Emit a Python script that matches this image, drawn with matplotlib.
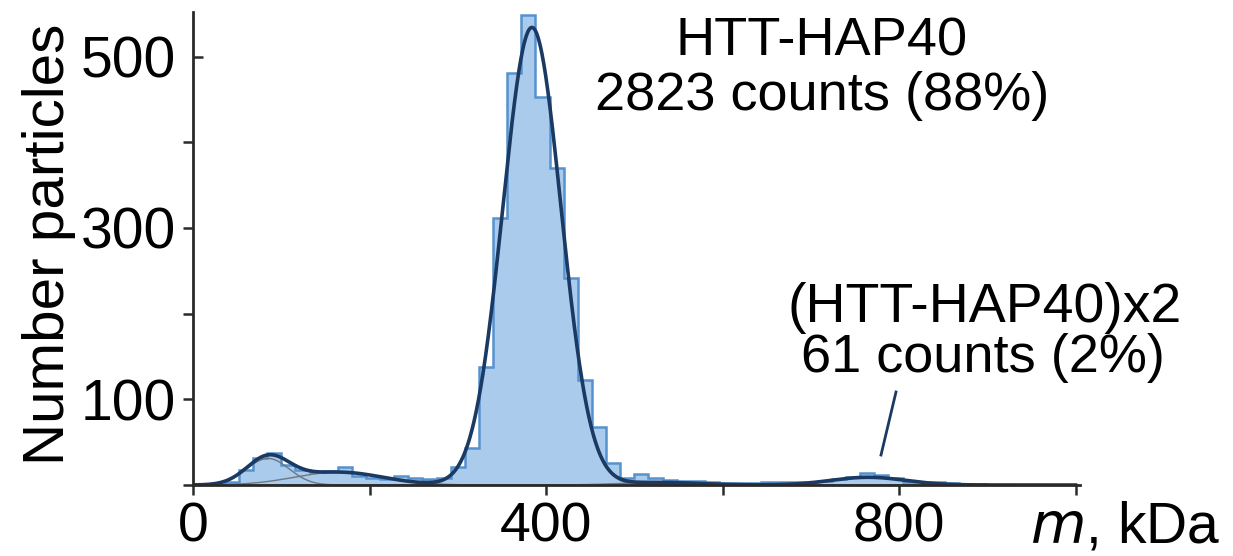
import numpy as np
import matplotlib.pyplot as plt
from matplotlib import lines as mlines

plt.rcParams['font.family'] = ['Liberation Sans', 'DejaVu Sans']

# mass histogram, 16 kDa bins starting at 4 kDa
bin_start = 4
bin_width = 16
counts = [0, 1, 3, 17, 31, 37, 23, 18, 15, 16,
          21, 11, 8, 7, 11, 8, 7, 8, 21, 43,
          138, 312, 481, 548, 453, 370, 242, 123, 68, 26,
          8, 13, 8, 6, 5, 5, 4, 2, 2, 2,
          3, 3, 3, 3, 5, 7, 9, 14, 12, 8,
          4, 4, 3, 2, 1, 1, 0, 0, 0, 0, 0, 0]

# gaussian fit components (kDa, kDa, counts)
peak_centers = [85, 165, 384, 530, 765]
peak_sigmas = [24, 50, 33, 45, 42]
peak_heights = [31, 15, 534, 3, 9]

x_ticks_major = [0, 400, 800]
x_ticks_minor = [200, 600, 1000]
y_ticks_major = [100, 300, 500]
y_ticks_minor = [0, 200, 400]

fill_col = '#aacbeb'
edge_col = '#5592cf'
fit_col = '#1b3a63'
comp_col = '#6d7780'
axis_col = '#2a2a2a'
fs = 39


def main():
    edges = bin_start + bin_width * np.arange(len(counts) + 1)
    fig = plt.figure(figsize=(12.33, 5.56), dpi=100)
    ax = fig.add_axes([193 / 1233, 1 - 485 / 556, 887 / 1233, 473 / 556])

    # histogram
    ax.stairs(counts, edges, fill=True, color=fill_col, linewidth=0)
    ax.stairs(counts, edges, color=edge_col, linewidth=1.8)

    # fitted gaussians
    xs = np.linspace(0, 1000, 2001)
    total = np.zeros_like(xs)
    for c, s, h in zip(peak_centers, peak_sigmas, peak_heights):
        g = h * np.exp(-0.5 * ((xs - c) / s) ** 2)
        total += g
        ax.plot(xs, g, color=comp_col, linewidth=1.0)
    ax.plot(xs, total, color=fit_col, linewidth=2.6)

    ax.set_xlim(0, 1005)
    ax.set_ylim(0, 552)

    for side in ['top', 'right']:
        ax.spines[side].set_visible(False)
    for side in ['left', 'bottom']:
        ax.spines[side].set_color(axis_col)
        ax.spines[side].set_linewidth(2.0)

    ax.set_xticks(x_ticks_major)
    ax.set_xticks(x_ticks_minor, minor=True)
    ax.set_yticks(y_ticks_major)
    ax.set_yticks(y_ticks_minor, minor=True)
    ax.tick_params(which='both', direction='out', length=7, width=1.8,
                   color=axis_col)
    ax.tick_params(axis='x', pad=5, labelsize=40)
    ax.tick_params(axis='y', pad=5, labelsize=41)
    # top tick points inwards in the original
    ax.yaxis.get_major_ticks()[-1].tick1line.set_marker(mlines.TICKRIGHT)

    fig.text(0.040, 0.56, 'Number particles', rotation=90,
             ha='center', va='center', fontsize=42)
    fig.text(1030 / 1233, 1 - 543 / 556, r'$\it{m}$, kDa',
             ha='left', va='baseline', fontsize=41)

    fig.text(822 / 1233, 1 - 55 / 556, 'HTT-HAP40',
             ha='center', va='baseline', fontsize=fs)
    fig.text(822 / 1233, 1 - 110 / 556, '2823 counts (88%)',
             ha='center', va='baseline', fontsize=fs)
    fig.text(985 / 1233, 1 - 322 / 556, '(HTT-HAP40)x2',
             ha='center', va='baseline', fontsize=fs + 1)
    fig.text(983 / 1233, 1 - 372 / 556, '61 counts (2%)',
             ha='center', va='baseline', fontsize=fs)

    # pointer to dimer peak
    fig.add_artist(mlines.Line2D([896 / 1233, 881 / 1233],
                                 [1 - 392 / 556, 1 - 455 / 556],
                                 color=fit_col, linewidth=2.0))

    fig.savefig('out.png', dpi=100)


if __name__ == "__main__":
    main()
